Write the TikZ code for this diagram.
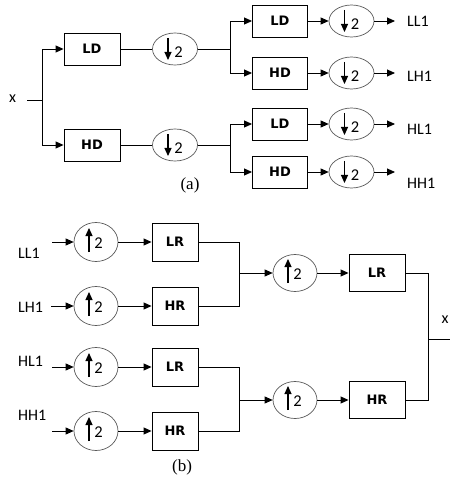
\documentclass[tikz,border=0pt]{standalone}
\usepackage{fontspec}
\setmainfont{Carlito}
\newfontfamily\boxfont{DejaVu Sans}
\newfontfamily\capfont{Liberation Serif}
\usetikzlibrary{arrows.meta,shapes.geometric}

\newcommand{\dnsamp}[3]{%
  % #1 name, #2 x, #3 y  (down-sampler)
  \node[dnell] (#1) at (#2,#3) {};
  \draw[inarr] ([xshift=-7pt,yshift=11pt]#1.center) -- ([xshift=-7pt,yshift=-11pt]#1.center);
  \node[two] (#1-2) at ([xshift=3.5pt,yshift=-3pt]#1.center) {2};
}
\newcommand{\upsamp}[4][39]{%
  % #1 height (default 39), #2 name, #3 x, #4 y  (up-sampler)
  \node[upell, minimum height=#1pt] (#2) at (#3,#4) {};
  \draw[inarr] ([xshift=-7pt,yshift=-10pt]#2.center) -- ([xshift=-7pt,yshift=14pt]#2.center);
  \node[two] (#2-2) at ([xshift=2.5pt,yshift=-1pt]#2.center) {2};
}

\begin{document}
\begin{tikzpicture}[x=1pt,y=-1pt]

\tikzset{
  blk/.style={draw, line width=0.9pt, inner sep=0pt, font=\boxfont\bfseries\fontsize{13}{15}\selectfont},
  dblk/.style={blk, minimum width=56pt, minimum height=32pt},
  rblk/.style={blk, minimum width=46pt, minimum height=38pt},
  rblk2/.style={blk, minimum width=56pt, minimum height=37pt},
  dnell/.style={draw=black!65, line width=0.7pt, ellipse, minimum width=45pt, minimum height=32pt, inner sep=0pt},
  upell/.style={draw=black!65, line width=0.7pt, ellipse, minimum width=44pt, inner sep=0pt},
  two/.style={inner sep=0pt, font=\fontsize{16.5}{19}\selectfont},
  lbl/.style={inner sep=0pt, font=\fontsize{16}{19}\selectfont},
  captxt/.style={inner sep=0pt, font=\capfont\fontsize{17}{20}\selectfont},
  ln/.style={line width=0.9pt},
  arr/.style={ln, -{Triangle[length=8pt,width=7pt]}},
  inarr/.style={line width=1.1pt, -{Triangle[length=8pt,width=7pt]}},
}

\useasboundingbox (0,0) rectangle (462,494);

% ---------------- (a) analysis: ----------------
\node[lbl] (xin) at (12.5,99) {x};
\coordinate (x0) at (27,100);
\coordinate (s0) at (42,100);

\node[dblk] (ld) at (92,49) {LD};
\node[dblk] (hd) at (92,145) {HD};
\dnsamp{dl}{175}{49}
\dnsamp{dh}{175}{145}

\coordinate (sl) at (230,49);
\coordinate (sh) at (230,145);

% second level
\node[dblk, minimum width=55pt] (ll) at (280,21) {LD};
\node[dblk, minimum width=55pt] (lh) at (280,73) {HD};
\node[dblk, minimum width=55pt] (hl) at (280,124) {LD};
\node[dblk, minimum width=55pt] (hh) at (280,172) {HD};
\dnsamp{dll}{351.5}{21}
\dnsamp{dlh}{351.5}{73}
\dnsamp{dhl}{351.5}{124}
\dnsamp{dhh}{351.5}{172}

\coordinate (oll) at (395,21);
\coordinate (olh) at (395,73);
\coordinate (ohl) at (395,124);
\coordinate (ohh) at (395,172);
\node[lbl, anchor=west] (tll) at (407,21.5) {LL1};
\node[lbl, anchor=west] (tlh) at (407,76) {LH1};
\node[lbl, anchor=west] (thl) at (407,129) {HL1};
\node[lbl, anchor=west] (thh) at (407,183) {HH1};

\node[captxt] (capa) at (190,185) {(a)};

\draw[ln] (x0) -- (s0);
\draw[arr] (s0) |- (ld);
\draw[arr] (s0) |- (hd);
\draw[ln] (ld) -- (dl);
\draw[ln] (hd) -- (dh);
\draw[ln] (dl) -- (sl);
\draw[ln] (dh) -- (sh);
\draw[arr] (sl) |- (ll);
\draw[arr] (sl) |- (lh);
\draw[arr] (sh) |- (hl);
\draw[arr] (sh) |- (hh);
\draw[arr] (ll) -- (dll);
\draw[arr] (lh) -- (dlh);
\draw[arr] (hl) -- (dhl);
\draw[arr] (hh) -- (dhh);
\draw[arr] (dll) -- (oll);
\draw[arr] (dlh) -- (olh);
\draw[arr] (dhl) -- (ohl);
\draw[arr] (dhh) -- (ohh);

% ---------------- (b) synthesis: ----------------
\node[lbl, anchor=west] (bll) at (18,253) {LL1};
\node[lbl, anchor=west] (blh) at (18,307) {LH1};
\node[lbl, anchor=west] (bhl) at (18,361) {HL1};
\node[lbl, anchor=west] (bhh) at (18,415) {HH1};
\coordinate (i1) at (52,242);
\coordinate (i2) at (51,306);
\coordinate (i3) at (52,367);
\coordinate (i4) at (52,431);

\upsamp{u1}{96}{242}
\upsamp{u2}{96}{306}
\upsamp{u3}{96}{367}
\upsamp{u4}{96}{431}

\node[rblk] (rl1) at (175,242) {LR};
\node[rblk] (rh1) at (175,306) {HR};
\node[rblk] (rl2) at (175,367) {LR};
\node[rblk] (rh2) at (175,431) {HR};

\coordinate (j1) at (239,273);
\coordinate (j2) at (239,400);
\upsamp[37]{v1}{295}{273}
\upsamp[37]{v2}{295}{400}
\node[rblk2] (rl) at (377,273) {LR};
\node[rblk2] (rh) at (377,400) {HR};

\coordinate (j3) at (428,339);
\coordinate (xo) at (450,339);
\node[lbl] (xout) at (445,320) {x};

\node[captxt] (capb) at (182,467) {(b)};

\draw[arr] (i1) -- (u1);
\draw[arr] (i2) -- (u2);
\draw[arr] (i3) -- (u3);
\draw[arr] (i4) -- (u4);
\draw[arr] (u1) -- (rl1);
\draw[arr] (u2) -- (rh1);
\draw[arr] (u3) -- (rl2);
\draw[arr] (u4) -- (rh2);
\draw[ln] (rl1) -| (j1);
\draw[ln] (rh1) -| (j1);
\draw[ln] (rl2) -| (j2);
\draw[ln] (rh2) -| (j2);
\draw[arr] (j1) -- (v1);
\draw[arr] (j2) -- (v2);
\draw[arr] (v1) -- (rl);
\draw[arr] (v2) -- (rh);
\draw[ln] (rl) -| (j3);
\draw[ln] (rh) -| (j3);
\draw[ln] (j3) -- (xo);

\end{tikzpicture}
\end{document}
